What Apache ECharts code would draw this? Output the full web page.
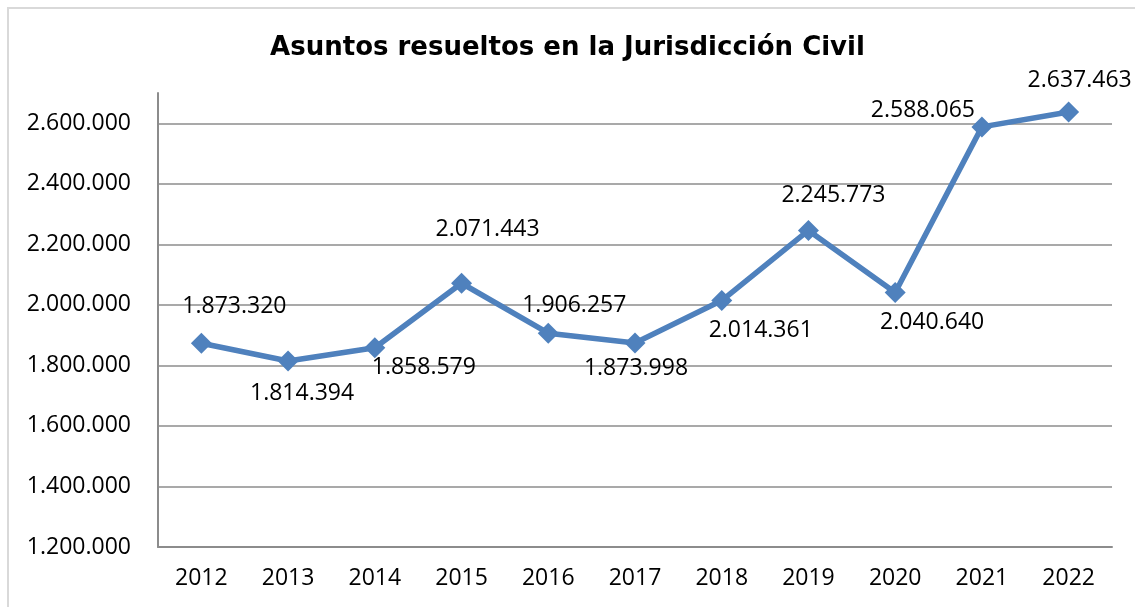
<!DOCTYPE html>
<html>
<head>
<meta charset="utf-8">
<script src="https://cdn.jsdelivr.net/npm/echarts@6/dist/echarts.min.js"></script>
<style>
html,body{margin:0;padding:0;background:#fff;}
#frame{position:absolute;left:7px;top:7px;width:1140px;height:620px;border-left:2px solid #d9d9d9;border-top:2px solid #d9d9d9;box-sizing:border-box;}
#chart{position:absolute;left:0;top:0;width:1135px;height:607px;}
</style>
</head>
<body>
<div id="frame"></div>
<div id="chart"></div>
<script>
const title = 'Asuntos resueltos en la Jurisdicción Civil';
const years = ['2012','2013','2014','2015','2016','2017','2018','2019','2020','2021','2022'];
const resueltos = [1873320, 1814394, 1858579, 2071443, 1906257, 1873998, 2014361, 2245773, 2040640, 2588065, 2637463];
const yTicks = [1200000, 1400000, 1600000, 1800000, 2000000, 2200000, 2400000, 2600000];
// label offsets (style only)
const labelOffsets = [[33,-37],[14,32],[49,20],[26,-54],[26,-28],[1,25],[39,30],[25,-35],[37,30],[-59,-16],[11,-31]];

function fmt(v){ return String(v).replace(/\B(?=(\d{3})+(?!\d))/g, '.'); }

const font = 'Open Sans';
const chart = echarts.init(document.getElementById('chart'), null, {renderer:'canvas'});
chart.setOption({
  animation:false,
  backgroundColor:'transparent',
  title:{text:title,left:'center',top:30,textStyle:{fontFamily:'DejaVu Sans',fontWeight:'bold',fontSize:26,color:'#000'}},
  grid:{left:158,right:23,top:93,bottom:60,containLabel:false},
  xAxis:{type:'category',data:years,boundaryGap:true,
    axisLine:{lineStyle:{color:'#8c8c8c',width:2}},axisTick:{show:false},
    axisLabel:{fontFamily:font,fontSize:23,color:'#000',margin:20}},
  yAxis:{type:'value',min:yTicks[0],max:2700000,interval:yTicks[1]-yTicks[0],
    axisLine:{show:true,lineStyle:{color:'#8c8c8c',width:2}},axisTick:{show:false},
    splitLine:{show:true,showMaxLine:false,lineStyle:{color:'#8c8c8c',width:1.5}},
    axisLabel:{showMaxLabel:false,fontFamily:font,fontSize:23,color:'#000',margin:27,formatter:v=>fmt(v)}},
  series:[{type:'line',data:resueltos.map((v,i)=>({value:v,label:{offset:labelOffsets[i]}})),
    lineStyle:{color:'#4f81bd',width:5.5},itemStyle:{color:'#4f81bd'},
    symbol:'diamond',symbolSize:21,
    label:{show:true,position:'inside',fontFamily:font,fontSize:23,color:'#000',formatter:p=>fmt(p.value)}}]
});
</script>
</body>
</html>
